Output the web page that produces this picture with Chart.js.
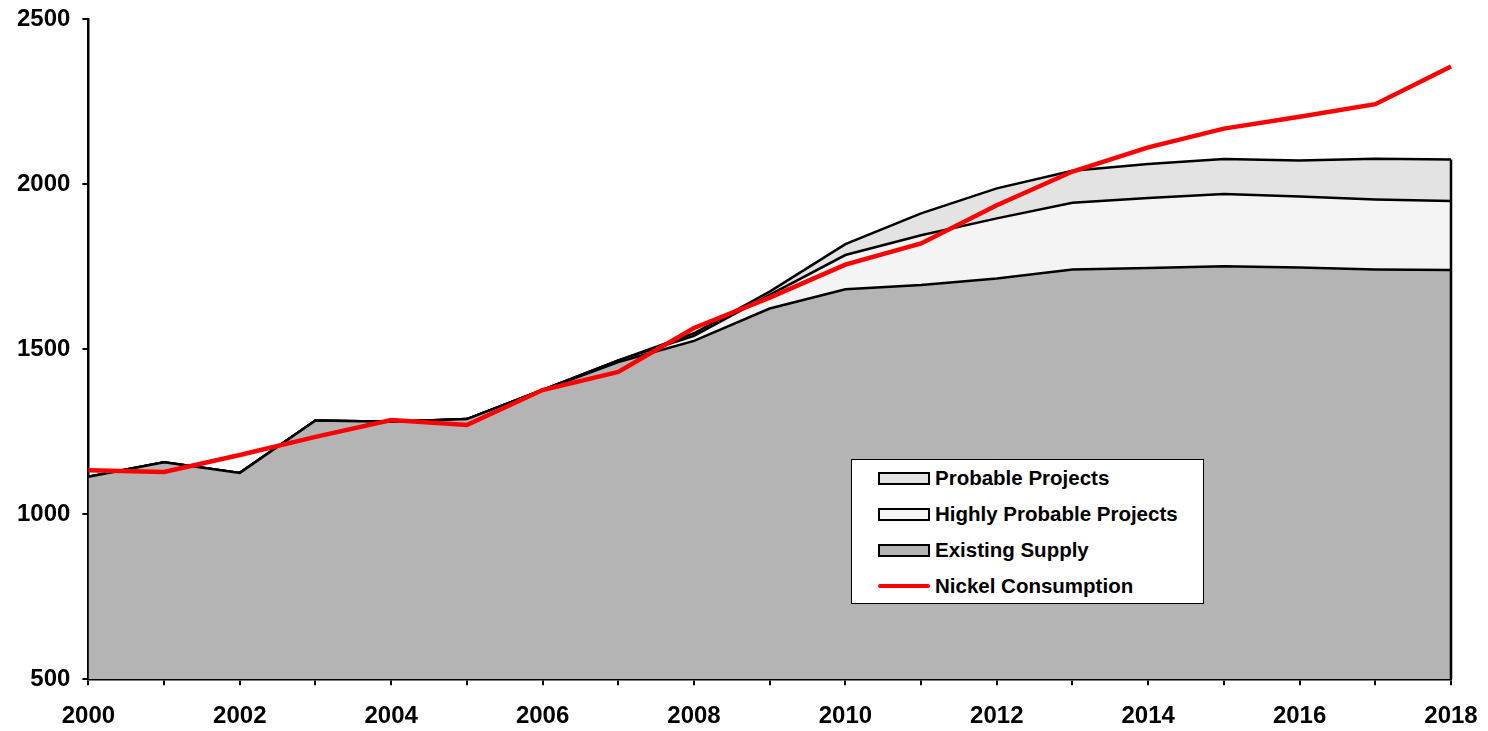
<!DOCTYPE html>
<html>
<head>
<meta charset="utf-8">
<script src="https://cdn.jsdelivr.net/npm/chart.js@4/dist/chart.umd.min.js"></script>
<style>
  body { margin: 0; background: #fff; }
  #wrap { position: relative; width: 1488px; height: 731px; }
  #legend {
    position: absolute; left: 851px; top: 459px; width: 353px; height: 145px;
    border: 1px solid #000; background: #fff; box-sizing: border-box;
    font-family: "Liberation Sans", Arial, sans-serif; font-weight: bold; font-size: 20.5px;
  }
  #legend .row { position: absolute; left: 26px; height: 24px; display: flex; align-items: center; }
  #legend .sw { width: 48px; height: 9px; border: 2px solid #000; margin-right: 5px; }
  #legend .ln { width: 52px; height: 4px; background: #ff0000; border-radius: 2px; margin-right: 5px; }
</style>
</head>
<body>
<div id="wrap">
  <canvas id="chart" width="1488" height="731"></canvas>
  <div id="legend"></div>
</div>
<script>
const years = ['2000','2001','2002','2003','2004','2005','2006','2007','2008','2009',
               '2010','2011','2012','2013','2014','2015','2016','2017','2018'];

// tonnes (thousand)
const existingSupply = [1113, 1157, 1125, 1284, 1280, 1288, 1376, 1461, 1525, 1623,
                        1681, 1694, 1714, 1741, 1746, 1751, 1747, 1741, 1740];
const highlyProbable = [0, 0, 0, 0, 0, 0, 0, 5, 15, 41,
                        104, 151, 182, 202, 212, 219, 215, 212, 209];
const probable = [0, 0, 0, 0, 0, 0, 0, 0, 8, 10,
                  33, 66, 91, 97, 103, 106, 109, 124, 125];
const consumption = [1133, 1128, 1179, 1234, 1285, 1270, 1376, 1431, 1564, 1656,
                     1756, 1820, 1936, 2038, 2111, 2168, 2204, 2242, 2356];

const yTicks = [500, 1000, 1500, 2000, 2500];

const FONT = '"Liberation Sans", Arial, sans-serif';

// vertical edge at the right end of the stacked areas
const rightEdge = {
    id: 'rightEdge',
    afterDatasetsDraw(chart) {
        const meta = chart.getDatasetMeta(2);
        const last = meta.data[meta.data.length - 1];
        const ctx = chart.ctx;
        ctx.save();
        ctx.strokeStyle = '#000';
        ctx.lineWidth = 2.5;
        ctx.beginPath();
        ctx.moveTo(last.x, last.y);
        ctx.lineTo(last.x, chart.chartArea.bottom);
        ctx.stroke();
        ctx.restore();
    }
};

const ctx = document.getElementById('chart').getContext('2d');
const chart = new Chart(ctx, {
    type: 'line',
    data: {
        labels: years,
        datasets: [
            { label: 'Existing Supply', data: existingSupply, stack: 'supply', fill: 'start',
              backgroundColor: '#b4b4b4', borderColor: '#000', borderWidth: 2.5, order: 1 },
            { label: 'Highly Probable Projects', data: highlyProbable, stack: 'supply', fill: '-1',
              backgroundColor: '#f4f4f4', borderColor: '#000', borderWidth: 2.5, order: 1 },
            { label: 'Probable Projects', data: probable, stack: 'supply', fill: '-1',
              backgroundColor: '#e3e3e3', borderColor: '#000', borderWidth: 2.5, order: 1 },
            { label: 'Nickel Consumption', data: consumption, stack: 'demand', fill: false,
              borderColor: '#ff0000', borderWidth: 4.5, order: 0 },
        ]
    },
    options: {
        responsive: false,
        animation: false,
        elements: { point: { radius: 0 }, line: { tension: 0, borderJoinStyle: 'miter' } },
        layout: { padding: { top: 19, right: 37, left: 5, bottom: -17 } },
        plugins: { legend: { display: false }, tooltip: { enabled: false } },
        scales: {
            x: {
                afterFit: s => { s.paddingLeft = 0; s.paddingRight = 0; },
                grid: { drawOnChartArea: false, drawTicks: true, tickLength: 6, color: '#000', lineWidth: 2 },
                border: { display: true, color: '#000', width: 2.5 },
                ticks: {
                    autoSkip: false, maxRotation: 0, padding: 17, color: '#000',
                    font: { family: FONT, weight: 'bold', size: 24 },
                    callback: (v, i) => (i % 2 === 0 ? years[i] : '')
                }
            },
            y: {
                stacked: true,
                min: 500, max: 2500,
                afterFit: s => { s.paddingTop = 0; s.paddingBottom = 0; },
                afterBuildTicks: axis => { axis.ticks = yTicks.map(v => ({ value: v })); },
                grid: { drawOnChartArea: false, drawTicks: true, tickLength: 6, color: '#000', lineWidth: 2 },
                border: { display: true, color: '#000', width: 2.5 },
                ticks: {
                    padding: 12, color: '#000',
                    font: { family: FONT, weight: 'bold', size: 24 },
                    callback: v => String(v)
                }
            }
        }
    },
    plugins: [rightEdge]
});

// legend built from the chart's datasets
const legendOrder = [2, 1, 0, 3];
const legend = document.getElementById('legend');
legendOrder.forEach((di, k) => {
    const ds = chart.data.datasets[di];
    const row = document.createElement('div');
    row.className = 'row';
    row.style.top = (6 + k * 36) + 'px';
    const sw = document.createElement('span');
    if (ds.fill === false) {
        sw.className = 'ln';
    } else {
        sw.className = 'sw';
        sw.style.background = ds.backgroundColor;
    }
    const txt = document.createElement('span');
    txt.textContent = ds.label;
    row.appendChild(sw);
    row.appendChild(txt);
    legend.appendChild(row);
});
</script>
</body>
</html>
